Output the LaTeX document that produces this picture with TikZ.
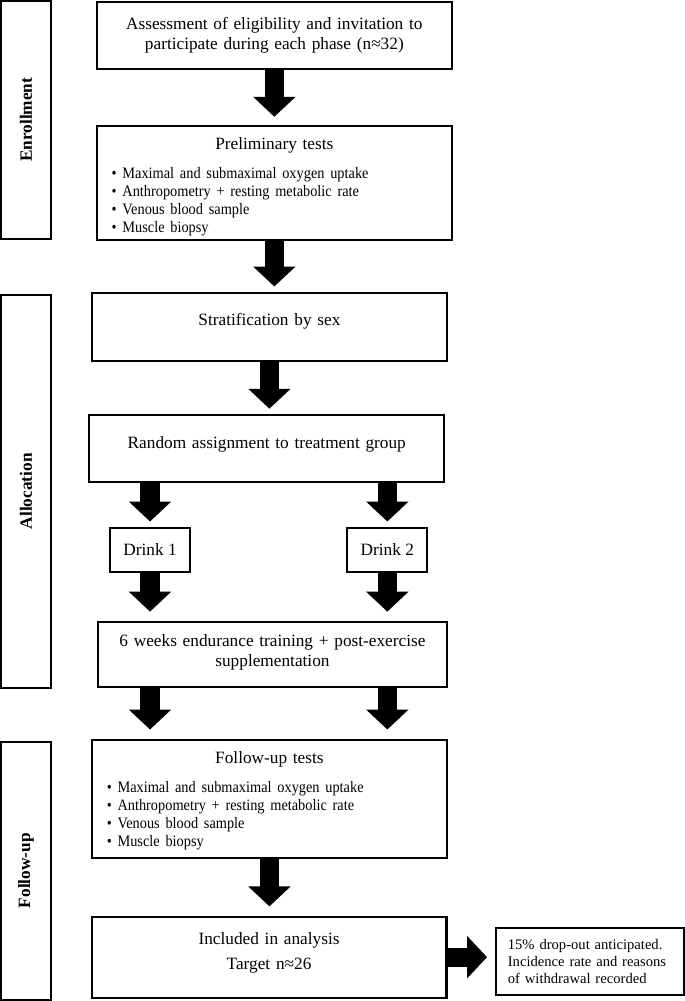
\documentclass[tikz,border=0pt]{standalone}
\usepackage{fontspec}
\setmainfont{Liberation Serif}
\newfontfamily\listfont[FakeStretch=0.9]{Liberation Serif}
\usetikzlibrary{arrows.meta}

\begin{document}
\begin{tikzpicture}[font=\fontsize{13}{15}\selectfont,
  box/.style={draw,line width=1.6pt,text width=9.11cm,inner xsep=4pt,inner ysep=4pt,align=center},
  listbox/.style={draw,line width=1.6pt,text width=8.61cm,inner xsep=11pt,inner ysep=4pt},
  drink/.style={draw,line width=1.6pt,minimum width=2.12cm,minimum height=1.16cm},
  phase/.style={draw,line width=1.5pt,rotate=90,minimum height=1.32cm,font=\fontsize{13}{15}\selectfont\bfseries},
  bigarrow/.style={line width=14.5pt,-{Triangle[width=31pt,length=15pt]},shorten >=#1},
  bigarrow/.default=4pt]
\useasboundingbox (0,0) rectangle (18.12,-26.49);

% phases on the left
\node[phase,minimum width=6.30cm] (enroll) at (0.69,-3.17) {Enrollment};
\node[phase,minimum width=10.40cm] (alloc) at (0.69,-13.00) {Allocation};
\node[phase,minimum width=6.83cm] (follow) at (0.69,-23.04) {Follow-up};

% enrollment
\node[box,minimum height=1.77cm] (assess) at (7.26,-0.94)
  {Assessment of eligibility and invitation to\\participate during each phase (n≈32)};
\node[listbox,minimum height=3.02cm] (prelim) at (7.26,-4.84) {%
  \centering Preliminary tests\par\vspace{8pt}
  \raggedright\listfont\fontsize{12}{13.5}\selectfont
  \textbullet\ Maximal and submaximal oxygen uptake\\
  \textbullet\ Anthropometry + resting metabolic rate\\
  \textbullet\ Venous blood sample\\
  \textbullet\ Muscle biopsy\par\kern-6pt};

% allocation
\node[box,minimum height=1.80cm] (strat) at (7.13,-8.65) {Stratification by sex\par\kern8pt};
\node[box,minimum height=1.77cm] (random) at (7.06,-11.87) {Random assignment to treatment group\par\kern6.5pt};
\node[drink] (drinkA) at (3.97,-14.55) {Drink 1};
\node[drink] (drinkB) at (10.25,-14.55) {Drink 2};
\node[box,text width=8.95cm,minimum height=1.72cm] (sixweeks) at (7.21,-17.32)
  {6 weeks endurance training + post-exercise\\supplementation\par\kern3.5pt};

% follow-up
\node[listbox,minimum height=3.12cm] (followup) at (7.13,-21.14) {%
  \centering Follow-up tests\par\vspace{8pt}
  \raggedright\listfont\fontsize{12}{13.5}\selectfont
  \textbullet\ Maximal and submaximal oxygen uptake\\
  \textbullet\ Anthropometry + resting metabolic rate\\
  \textbullet\ Venous blood sample\\
  \textbullet\ Muscle biopsy\par\kern-3pt};
\node[box,minimum height=2.14cm,font=\fontsize{13}{18.75}\selectfont] (included) at (7.12,-25.33)
  {Included in analysis\\Target n≈26\par\kern6pt};
\node[draw,line width=1.3pt,text width=4.34cm,inner xsep=9pt,minimum height=1.77cm,align=left,
  font=\fontsize{11}{12.75}\selectfont] (note) at (15.61,-25.44)
  {15\% drop-out anticipated.\\Incidence rate and reasons\\of withdrawal recorded};

% block arrows
\draw[bigarrow=6pt] (assess) -- (prelim);
\draw[bigarrow] (prelim.south) -- (prelim.south |- strat.north);
\draw[bigarrow] (strat.south) -- (strat.south |- random.north);
\draw[bigarrow] (drinkA |- random.south) -- (drinkA.north);
\draw[bigarrow] (drinkB |- random.south) -- (drinkB.north);
\draw[bigarrow=7pt] (drinkA.south) -- (drinkA |- sixweeks.north);
\draw[bigarrow=7pt] (drinkB.south) -- (drinkB |- sixweeks.north);
\draw[bigarrow=7pt] (drinkA |- sixweeks.south) -- (drinkA |- followup.north);
\draw[bigarrow=7pt] (drinkB |- sixweeks.south) -- (drinkB |- followup.north);
\draw[bigarrow=7pt] (followup.south) -- (followup.south |- included.north);
\draw[bigarrow=6pt] (included.east) -- (included.east -| note.west);
\end{tikzpicture}
\end{document}
